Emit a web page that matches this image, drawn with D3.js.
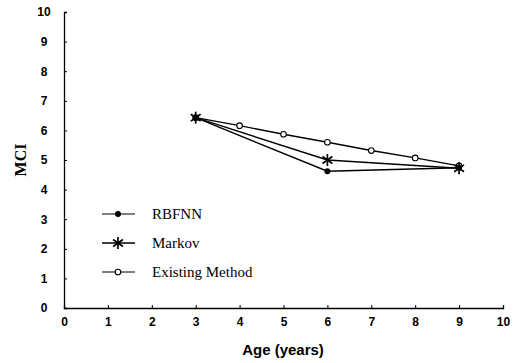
<!DOCTYPE html>
<html>
<head>
<meta charset="utf-8">
<script src="https://cdn.jsdelivr.net/npm/d3@7"></script>
<style>
  body { margin: 0; background: #fff; }
  svg { display: block; }
</style>
</head>
<body>
<svg id="chart" width="521" height="363"></svg>
<script>
// MCI vs age chart

var xTicks = [0, 1, 2, 3, 4, 5, 6, 7, 8, 9, 10],
    yTicks = [0, 1, 2, 3, 4, 5, 6, 7, 8, 9, 10];

var rbfnnAge = [3, 6, 9],
    rbfnnMci = [6.43, 4.62, 4.74];

var markovAge = [3, 6, 9],
    markovMci = [6.43, 5.0, 4.72];

var existingAge = [3, 4, 5, 6, 7, 8, 9],
    existingMci = [6.43, 6.16, 5.87, 5.6, 5.32, 5.07, 4.8];

var seriesNames = ["RBFNN", "Markov", "Existing Method"];

var svg = d3.select("#chart");

var x = d3.scaleLinear().domain([0, 10]).range([64, 503]),
    y = d3.scaleLinear().domain([0, 10]).range([308, 12]);

var xAxis = svg.append("g")
  .attr("transform", "translate(0," + y(0) + ")")
  .call(d3.axisBottom(x).tickValues(xTicks).tickSize(-3).tickPadding(9));

var yAxis = svg.append("g")
  .attr("transform", "translate(" + x(0) + ",0)")
  .call(d3.axisLeft(y).tickValues(yTicks).tickSize(-3).tickPadding(18));

[xAxis, yAxis].forEach(function(a) {
  a.select(".domain").attr("stroke", "#000").attr("stroke-width", 1.3);
  a.selectAll(".tick line").attr("stroke", "#000");
  a.selectAll(".tick text")
   .attr("fill", "#000")
   .style("font-family", "Liberation Sans, Arial, sans-serif")
   .style("font-weight", "bold")
   .style("font-size", "12px");
});
yAxis.selectAll(".tick text").attr("text-anchor", "middle").attr("dx", "-2");

var line = d3.line()
  .x(function(d) { return x(d[0]); })
  .y(function(d) { return y(d[1]); });

function pairs(a, b) {
  return a.map(function(v, i) { return [v, b[i]]; });
}

var rbfnn = pairs(rbfnnAge, rbfnnMci),
    markov = pairs(markovAge, markovMci),
    existing = pairs(existingAge, existingMci);

[rbfnn, markov, existing].forEach(function(s) {
  svg.append("path")
    .datum(s)
    .attr("d", line)
    .attr("fill", "none")
    .attr("stroke", "#000")
    .attr("stroke-width", 1.4);
});

// asterisk: vertical + two diagonals
function star(g, cx, cy, r) {
  [90, 35, 145].forEach(function(a) {
    var rad = a * Math.PI / 180;
    g.append("line")
      .attr("x1", cx - r * Math.cos(rad)).attr("y1", cy - r * Math.sin(rad))
      .attr("x2", cx + r * Math.cos(rad)).attr("y2", cy + r * Math.sin(rad))
      .attr("stroke", "#000").attr("stroke-width", 1.7);
  });
}

function dot(g, cx, cy) {
  g.append("circle").attr("cx", cx).attr("cy", cy).attr("r", 3).attr("fill", "#000");
}

function ring(g, cx, cy) {
  g.append("circle").attr("cx", cx).attr("cy", cy).attr("r", 2.8)
    .attr("fill", "#fff").attr("stroke", "#000").attr("stroke-width", 1.1);
}

var marks = svg.append("g");
existing.forEach(function(d) { ring(marks, x(d[0]), y(d[1])); });
rbfnn.forEach(function(d) { dot(marks, x(d[0]), y(d[1])); });
markov.forEach(function(d) { star(marks, x(d[0]), y(d[1]), 6); });

// legend
var legendY = [214, 243, 272],
    drawers = [dot, function(g, cx, cy) { star(g, cx, cy, 6); }, ring];

var legend = svg.append("g");
seriesNames.forEach(function(name, i) {
  var ly = legendY[i];
  legend.append("line")
    .attr("x1", 102).attr("x2", 135).attr("y1", ly).attr("y2", ly)
    .attr("stroke", "#000").attr("stroke-width", i == 1 ? 1.5 : 1.1);
  drawers[i](legend, 118, ly);
  legend.append("text")
    .attr("x", 152).attr("y", ly + 5)
    .style("font-family", "Liberation Serif, Times New Roman, serif")
    .style("font-size", "15px")
    .text(name);
});

svg.append("text")
  .attr("transform", "translate(26,160) rotate(-90)")
  .attr("text-anchor", "middle")
  .style("font-family", "Liberation Serif, Times New Roman, serif")
  .style("font-weight", "bold")
  .style("font-size", "16px")
  .text("MCI");

svg.append("text")
  .attr("x", 283).attr("y", 355)
  .attr("text-anchor", "middle")
  .style("font-family", "Liberation Sans, Arial, sans-serif")
  .style("font-weight", "bold")
  .style("font-size", "15px")
  .text("Age (years)");
</script>
</body>
</html>
